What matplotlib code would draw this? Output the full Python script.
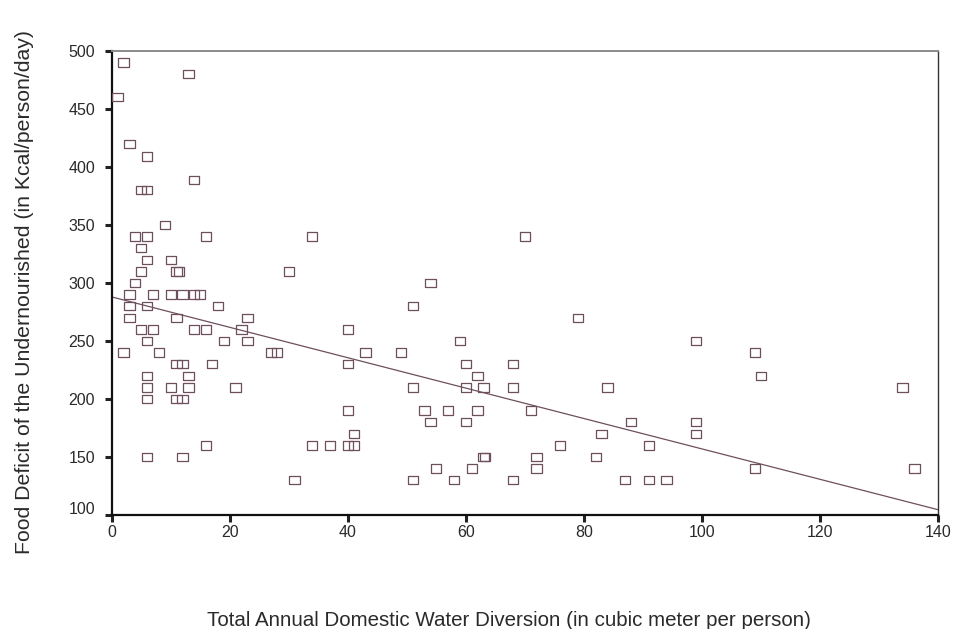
import matplotlib
matplotlib.use("Agg")
import matplotlib.pyplot as plt
import matplotlib.transforms as mtransforms

plt.rcParams['font.family'] = ['Liberation Sans', 'DejaVu Sans']

water = [2, 13, 1, 3, 6, 14, 5, 6, 9, 4, 6, 16, 5, 6, 10, 5, 11, 11.4, 30,
         4, 3, 7, 10, 12, 14, 15, 3, 6, 18, 3, 11, 23, 5, 7, 14, 16, 22,
         6, 19, 23, 2, 8, 27, 28, 11, 12, 17, 6, 13, 6, 10, 13, 21, 6, 11, 12,
         16, 6, 12,
         34, 70, 54, 51, 40, 59, 43, 49, 40, 60, 68, 62, 51, 60, 63, 68,
         40, 53, 57, 62, 71, 54, 60, 41, 34, 37, 40, 41, 63, 63.3, 55, 61,
         31, 51, 58, 68,
         79, 99, 84, 88, 99, 83, 99, 76, 91, 72, 82, 72, 87, 91, 94,
         109, 110, 134, 109, 136]

deficit = [490, 480, 460, 420, 409, 389, 380, 380, 350, 340, 340, 340, 330, 320, 320, 310, 310, 310, 310,
           300, 290, 290, 290, 290, 290, 290, 280, 280, 280, 270, 270, 270, 260, 260, 260, 260, 260,
           250, 250, 250, 240, 240, 240, 240, 230, 230, 230, 220, 220, 210, 210, 210, 210, 200, 200, 200,
           160, 150, 150,
           340, 340, 300, 280, 260, 250, 240, 240, 230, 230, 230, 220, 210, 210, 210, 210,
           190, 190, 190, 190, 190, 180, 180, 170, 160, 160, 160, 160, 150, 150, 140, 140,
           130, 130, 130, 130,
           270, 250, 210, 180, 180, 170, 170, 160, 160, 150, 150, 140, 130, 130, 130,
           240, 220, 210, 140, 140]

fit_intercept = 288.0
fit_slope = -1.31
fit_x = [0, 140]

x_ticks = [0, 20, 40, 60, 80, 100, 120, 140]
y_ticks = [100, 150, 200, 250, 300, 350, 400, 450, 500]

x_label = "Total Annual Domestic Water Diversion (in cubic meter per person)"
y_label = "Food Deficit of the Undernourished (in Kcal/person/day)"

color = '#6e4f5e'
text_color = '#2a2a2a'

fig = plt.figure(figsize=(9.66, 6.29), dpi=100)
ax = fig.add_axes([0.1156, 0.1812, 0.971 - 0.1156, 0.919 - 0.1812])

rect = [(-1, -0.8), (1, -0.8), (1, 0.8), (-1, 0.8), (-1, -0.8)]
ax.scatter(water, deficit, marker=rect, s=55, facecolors='none',
           edgecolors=color, linewidths=0.9, zorder=3)

fit_y = [fit_intercept + fit_slope * xv for xv in fit_x]
ax.plot(fit_x, fit_y, color=color, linewidth=0.9, zorder=2)

ax.set_xlim(0, 140)
ax.set_ylim(100, 500)
ax.set_xticks(x_ticks)
ax.set_yticks(y_ticks)
ax.set_xticklabels([str(v) for v in x_ticks])
ax.set_yticklabels([str(v) for v in y_ticks])

ax.tick_params(axis='both', direction='out', length=5, width=2.2,
               colors='#222222', labelsize=11.5, labelcolor=text_color)
ax.tick_params(axis='x', pad=2)
ax.tick_params(axis='y', pad=7)

ax.spines['left'].set_linewidth(1.6)
ax.spines['left'].set_color('#111111')
ax.spines['bottom'].set_linewidth(1.6)
ax.spines['bottom'].set_color('#111111')
ax.spines['top'].set_linewidth(1.4)
ax.spines['top'].set_color('#8a8a8a')
ax.spines['right'].set_linewidth(1.0)
ax.spines['right'].set_color('#333333')

# shift the lowest y tick label up slightly as in the reference
for lbl in ax.get_yticklabels():
    if lbl.get_text() == '100':
        lbl.set_transform(lbl.get_transform() +
                          mtransforms.ScaledTranslation(0, 7 / 100, fig.dpi_scale_trans))

fig.text(0.527, 1 - 620 / 629, x_label, ha='center', va='center', fontsize=14.8, color=text_color)
fig.text(25 / 966, 1 - 292 / 629, y_label, ha='center', va='center', rotation=90,
         fontsize=15.3, color=text_color)

fig.savefig('out.png', dpi=100)
